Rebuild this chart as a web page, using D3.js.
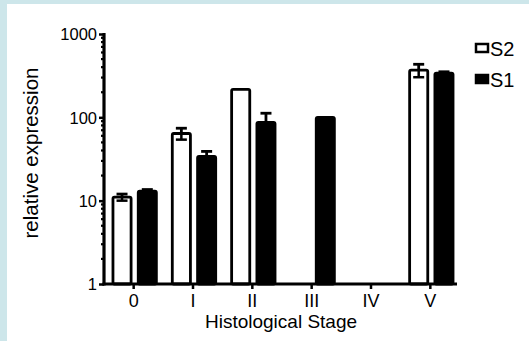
<!DOCTYPE html>
<html><head><meta charset="utf-8">
<script src="https://cdn.jsdelivr.net/npm/d3@7"></script>
<style>
html,body{margin:0;padding:0;background:#fff;}
svg{display:block;}
text{font-family:"Liberation Sans",Arial,sans-serif;fill:#000;}
</style></head>
<body>
<svg id="chart" width="529" height="341"></svg>
<script>
const categories = ["0","I","II","III","IV","V"];
const seriesNames = ["S2","S1"];
const s2Values = [11, 64, 217, null, null, 368];
const s2Errors = [1, 10, 0, null, null, 65];
const s1Values = [13, 34, 87, 100, null, 340];
const s1Errors = [0.6, 5, 25, 0, null, 12];
const yTicks = [1, 10, 100, 1000];

(function () {
const svg = d3.select("#chart");
const W = 529, H = 341;
svg.append("rect").attr("width", W).attr("height", H).attr("fill", "#cde6ea");
svg.append("rect").attr("x", 7).attr("y", 4).attr("width", W - 7).attr("height", H - 4).attr("fill", "#fff");

const mLeft = 104, mRight = 460, mTop = 34, mBottom = 284;
const x = d3.scaleBand().domain(categories).range([mLeft, mRight]).padding(0);
const xs = d3.scaleBand().domain(seriesNames).range([-22, 24]).paddingInner(0.18);
const y = d3.scaleLog().domain([1, 1000]).range([mBottom, mTop]);

const g = svg.append("g");

const series = [
  {name: "S2", vals: s2Values, errs: s2Errors, fill: "#fff"},
  {name: "S1", vals: s1Values, errs: s1Errors, fill: "#000"}
];
const bw = xs.bandwidth();
series.forEach(s => {
  categories.forEach((c, i) => {
    const v = s.vals[i];
    if (v == null) return;
    const cx = x(c) + x.bandwidth() / 2 + xs(s.name) + bw / 2;
    const e = s.errs[i] || 0;
    if (e > 0) {
      const yt = y(v + e);
      g.append("line").attr("x1", cx).attr("x2", cx).attr("y1", yt).attr("y2", y(v))
        .attr("stroke", "#000").attr("stroke-width", 2.8);
      g.append("line").attr("x1", cx - 5.5).attr("x2", cx + 5.5).attr("y1", yt).attr("y2", yt)
        .attr("stroke", "#000").attr("stroke-width", 2.8);
    }
    g.append("rect")
      .attr("x", cx - bw / 2 + 1.3).attr("y", y(v))
      .attr("width", bw - 2.6).attr("height", y(1) - y(v))
      .attr("rx", 1.5)
      .attr("fill", s.fill).attr("stroke", "#000").attr("stroke-width", 2.8);
    if (e > 0 && s.fill === "#fff") {
      const yb = y(v - e);
      g.append("line").attr("x1", cx).attr("x2", cx).attr("y1", y(v)).attr("y2", yb)
        .attr("stroke", "#000").attr("stroke-width", 2.5);
      g.append("line").attr("x1", cx - 5.5).attr("x2", cx + 5.5).attr("y1", yb).attr("y2", yb)
        .attr("stroke", "#000").attr("stroke-width", 2.5);
    }
  });
});

const yAxisG = svg.append("g").attr("transform", `translate(${mLeft},0)`);
const minor = [];
for (let d = 1; d < 1000; d *= 10) for (let k = 2; k <= 9; k++) minor.push(d * k);
yAxisG.selectAll("line.minor").data(minor).join("line")
  .attr("class", "minor").attr("x1", -3).attr("x2", 0)
  .attr("y1", d => y(d)).attr("y2", d => y(d))
  .attr("stroke", "#000").attr("stroke-width", 2.2);
const yAxis = d3.axisLeft(y).tickValues(yTicks).tickFormat(d3.format("d")).tickSize(5).tickPadding(2);
yAxisG.call(yAxis);
yAxisG.attr("font-size", null).attr("font-family", null);
yAxisG.select(".domain").remove();
yAxisG.selectAll(".tick line").attr("stroke-width", 2.5);
yAxisG.selectAll(".tick text").style("font-size", "16.5px").attr("dy", "0.36em");
yAxisG.append("line").attr("x1", 0).attr("x2", 0).attr("y1", mTop - 1).attr("y2", mBottom + 1.5)
  .attr("stroke", "#000").attr("stroke-width", 3.2);

const xAxisG = svg.append("g").attr("transform", `translate(0,${mBottom})`);
const xAxis = d3.axisBottom(x).tickSize(5).tickPadding(5);
xAxisG.call(xAxis);
xAxisG.attr("font-size", null).attr("font-family", null);
xAxisG.select(".domain").remove();
xAxisG.selectAll(".tick line").attr("stroke-width", 2.5);
xAxisG.selectAll(".tick text").style("font-size", "18px");
xAxisG.append("line").attr("x1", mLeft - 1.5).attr("x2", 457).attr("y1", 0).attr("y2", 0)
  .attr("stroke", "#000").attr("stroke-width", 3.2);

svg.append("text").attr("x", 281).attr("y", 328).attr("text-anchor", "middle")
  .style("font-size", "19px").text("Histological Stage");
svg.append("text").attr("transform", "translate(38,153) rotate(-90)").attr("text-anchor", "middle")
  .style("font-size", "20.5px").text("relative expression");

const legend = svg.append("g");
series.forEach((s, i) => {
  const ly = 48 + i * 31;
  legend.append("rect").attr("x", 476).attr("y", ly - 4).attr("width", 12).attr("height", 8)
    .attr("fill", s.fill).attr("stroke", "#000").attr("stroke-width", 2.5);
  legend.append("text").attr("x", 490).attr("y", ly + 7.5).style("font-size", "20px").text(s.name);
});
})();
</script>
</body></html>
